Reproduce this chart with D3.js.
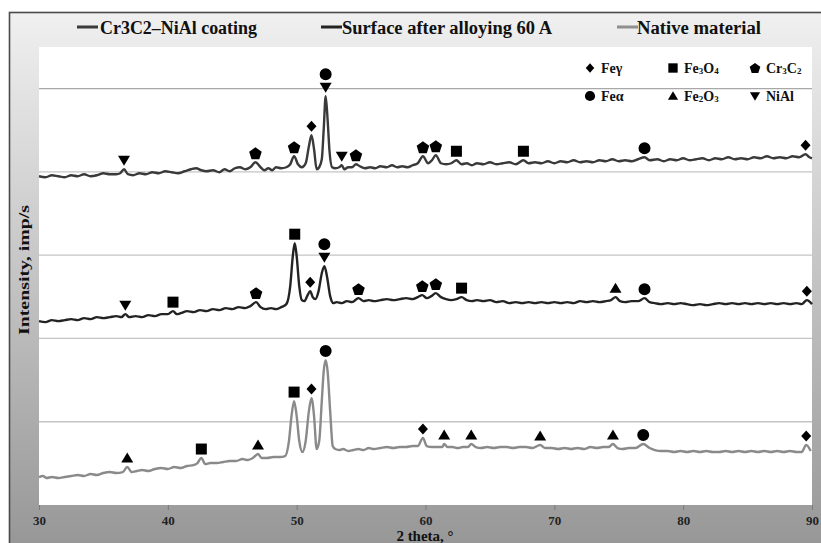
<!DOCTYPE html>
<html><head><meta charset="utf-8">
<script src="https://cdn.jsdelivr.net/npm/d3@7"></script>
<style>body{margin:0;background:#fff;} svg{display:block;}</style>
</head><body><svg id="chart" width="821" height="543"></svg>
<script>
// ---------------- DATA ----------------
const seriesNames = ["Cr3C2–NiAl coating", "Surface after alloying 60 A", "Native material"];
const xTicks = [30, 40, 50, 60, 70, 80, 90];
const gridValues = [1000, 2000, 3000, 4000, 5000];
const xTitle = "2 theta, °";
const yTitle = "Intensity, imp/s";

// [2θ, intensity]
const coating = [[30.0,3948],[30.5,3936],[31.0,3960],[31.5,3948],[32.0,3936],[32.5,3960],[33.0,3948],[33.5,3972],[34.0,3948],[34.5,3960],[35.0,3984],[35.5,3972],[36.0,3972],[36.3,3984],[36.6,4032],[36.9,3972],[37.3,3960],[37.8,3984],[38.3,3972],[38.8,3996],[39.3,3984],[39.8,4008],[40.3,3996],[40.8,3984],[41.3,4008],[41.8,4032],[42.2,4044],[42.6,4020],[43.0,4008],[43.5,4020],[44.0,3996],[44.4,4032],[44.8,4008],[45.2,4044],[45.6,4056],[46.0,4032],[46.4,4056],[46.8,4116],[47.2,4056],[47.5,4020],[47.8,4044],[48.1,4020],[48.4,4056],[48.8,4044],[49.2,4056],[49.5,4092],[49.8,4188],[50.1,4092],[50.4,4056],[50.7,4104],[50.95,4308],[51.15,4440],[51.35,4272],[51.55,4032],[51.75,4056],[51.95,4152],[52.1,4512],[52.25,4908],[52.4,4632],[52.55,4248],[52.75,4056],[53.0,4044],[53.3,4056],[53.5,4080],[53.7,4032],[54.0,4056],[54.3,4056],[54.6,4092],[54.9,4068],[55.3,4044],[55.7,4056],[56.1,4044],[56.5,4068],[57.0,4056],[57.4,4080],[57.8,4056],[58.2,4068],[58.6,4056],[59.0,4080],[59.4,4104],[59.8,4188],[60.2,4104],[60.5,4140],[60.8,4200],[61.2,4104],[61.6,4092],[62.0,4104],[62.4,4140],[62.8,4092],[63.2,4104],[63.6,4080],[64.0,4104],[64.5,4092],[65.0,4116],[65.5,4092],[66.0,4104],[66.5,4116],[67.0,4092],[67.6,4140],[68.0,4104],[68.5,4116],[69.0,4104],[69.5,4128],[70.0,4104],[70.5,4128],[71.0,4116],[71.5,4140],[72.0,4116],[72.5,4128],[73.0,4116],[73.5,4140],[74.0,4128],[74.5,4152],[75.0,4128],[75.5,4140],[76.0,4128],[76.5,4152],[77.0,4176],[77.4,4140],[78.0,4152],[78.5,4128],[79.0,4152],[79.5,4140],[80.0,4164],[80.5,4140],[81.0,4152],[81.5,4164],[82.0,4140],[82.5,4164],[83.0,4152],[83.5,4176],[84.0,4152],[84.5,4164],[85.0,4152],[85.5,4176],[86.0,4164],[86.5,4188],[87.0,4164],[87.5,4176],[88.0,4164],[88.5,4188],[89.0,4176],[89.5,4212],[89.8,4176],[90.0,4164]];

const alloyed = [[30.0,2208],[30.5,2196],[31.0,2220],[31.5,2208],[32.0,2220],[32.5,2232],[33.0,2220],[33.5,2244],[34.0,2232],[34.5,2256],[35.0,2244],[35.5,2256],[36.0,2268],[36.4,2256],[36.7,2292],[37.0,2256],[37.5,2268],[38.0,2256],[38.5,2280],[39.0,2268],[39.5,2292],[40.0,2292],[40.4,2328],[40.7,2292],[41.0,2304],[41.5,2328],[42.0,2316],[42.5,2340],[43.0,2328],[43.5,2352],[44.0,2340],[44.5,2364],[45.0,2352],[45.5,2376],[46.0,2364],[46.4,2388],[46.85,2436],[47.2,2376],[47.6,2352],[48.0,2364],[48.4,2352],[48.8,2376],[49.2,2412],[49.5,2628],[49.7,2988],[49.85,3144],[50.0,2988],[50.2,2628],[50.4,2460],[50.6,2448],[50.85,2520],[51.05,2568],[51.25,2496],[51.45,2472],[51.7,2568],[51.95,2784],[52.15,2868],[52.35,2748],[52.6,2508],[52.85,2424],[53.1,2436],[53.5,2424],[53.9,2448],[54.3,2436],[54.8,2484],[55.2,2448],[55.6,2460],[56.0,2448],[56.5,2460],[57.0,2472],[57.5,2460],[58.0,2472],[58.5,2484],[59.0,2472],[59.4,2496],[59.75,2520],[60.1,2484],[60.45,2508],[60.8,2544],[61.2,2496],[61.6,2472],[62.0,2460],[62.4,2472],[62.8,2496],[63.2,2460],[63.6,2448],[64.0,2460],[64.5,2448],[65.0,2460],[65.5,2436],[66.0,2448],[66.5,2424],[67.0,2436],[67.5,2424],[68.0,2436],[68.5,2424],[69.0,2436],[69.5,2424],[70.0,2436],[70.5,2424],[71.0,2436],[71.5,2424],[72.0,2448],[72.5,2436],[73.0,2448],[73.5,2436],[74.0,2448],[74.4,2460],[74.75,2496],[75.1,2448],[75.5,2436],[76.0,2448],[76.5,2448],[77.0,2484],[77.4,2436],[77.8,2424],[78.3,2412],[78.8,2424],[79.3,2412],[79.8,2424],[80.3,2412],[80.8,2400],[81.3,2412],[81.8,2400],[82.3,2412],[82.8,2424],[83.3,2412],[83.8,2424],[84.3,2412],[84.8,2424],[85.3,2412],[85.8,2424],[86.3,2412],[86.8,2424],[87.3,2412],[87.8,2424],[88.3,2412],[88.8,2424],[89.2,2412],[89.6,2460],[90.0,2412]];

const nativeMat = [[30.0,336],[30.3,348],[30.6,324],[31.0,336],[31.5,324],[32.0,336],[32.5,348],[33.0,360],[33.5,348],[34.0,372],[34.5,360],[35.0,384],[35.5,396],[36.0,384],[36.5,396],[36.85,456],[37.2,396],[37.6,408],[38.0,420],[38.5,408],[39.0,432],[39.5,444],[40.0,432],[40.5,456],[41.0,444],[41.5,468],[42.0,480],[42.3,504],[42.6,564],[42.9,492],[43.3,504],[43.8,504],[44.3,516],[44.8,528],[45.3,528],[45.8,552],[46.2,540],[46.6,564],[47.0,612],[47.3,564],[47.7,564],[48.2,576],[48.7,576],[49.1,588],[49.4,768],[49.6,1068],[49.8,1248],[50.0,1068],[50.2,768],[50.45,636],[50.7,768],[50.95,1128],[51.15,1284],[51.35,1068],[51.55,672],[51.75,768],[51.95,1248],[52.1,1608],[52.25,1740],[52.4,1608],[52.6,1128],[52.8,708],[53.0,672],[53.3,660],[53.6,672],[54.0,648],[54.4,660],[54.8,672],[55.2,660],[55.6,684],[56.0,672],[56.5,684],[57.0,696],[57.5,684],[58.0,696],[58.5,696],[59.0,708],[59.4,708],[59.8,804],[60.1,708],[60.5,696],[60.9,696],[61.3,696],[61.45,732],[61.7,696],[62.1,696],[62.5,684],[62.9,696],[63.3,696],[63.55,732],[63.9,696],[64.3,684],[64.8,696],[65.3,684],[65.8,696],[66.3,696],[66.8,684],[67.3,696],[67.8,696],[68.3,684],[68.9,720],[69.3,684],[69.8,684],[70.3,672],[70.8,684],[71.3,672],[71.8,684],[72.3,672],[72.8,696],[73.3,684],[73.8,696],[74.2,696],[74.55,732],[74.9,684],[75.3,672],[75.8,684],[76.3,684],[76.9,732],[77.4,684],[77.8,660],[78.3,648],[78.8,648],[79.3,636],[79.8,648],[80.3,636],[80.8,648],[81.3,636],[81.8,648],[82.3,636],[82.8,636],[83.3,648],[83.8,636],[84.3,648],[84.8,636],[85.3,648],[85.8,636],[86.3,648],[86.8,636],[87.3,648],[87.8,636],[88.3,648],[88.8,636],[89.2,636],[89.55,720],[89.9,648]];

// phase identifications: [2θ, phase, stack level]
const coatingMarks = [[36.6,"NiAl",0],[46.8,"Cr3C2",0],[49.8,"Cr3C2",0],[51.15,"Feγ",0],[52.25,"NiAl",0],[52.25,"Feα",1],[53.5,"NiAl",0],[54.6,"Cr3C2",0],[59.8,"Cr3C2",0],[60.8,"Cr3C2",0],[62.4,"Fe3O4",0],[67.6,"Fe3O4",0],[77.0,"Feα",0],[89.5,"Feγ",0]];
const alloyedMarks = [[36.7,"NiAl",0],[40.4,"Fe3O4",0],[46.85,"Cr3C2",0],[49.85,"Fe3O4",0],[51.05,"Feγ",0],[52.15,"NiAl",0],[52.15,"Feα",1],[54.8,"Cr3C2",0],[59.75,"Cr3C2",0],[60.8,"Cr3C2",0],[62.8,"Fe3O4",0],[74.75,"Fe2O3",0],[77.0,"Feα",0],[89.6,"Feγ",0]];
const nativeMarks = [[36.85,"Fe2O3",0],[42.6,"Fe3O4",0],[47.0,"Fe2O3",0],[49.8,"Fe3O4",0],[51.15,"Feγ",0],[52.25,"Feα",0],[59.8,"Feγ",0],[61.45,"Fe2O3",0],[63.55,"Fe2O3",0],[68.9,"Fe2O3",0],[74.55,"Fe2O3",0],[76.9,"Feα",0],[89.55,"Feγ",0]];

const phaseLegendRow1 = ["Feγ", "Fe3O4", "Cr3C2"];
const phaseLegendRow2 = ["Feα", "Fe2O3", "NiAl"];

// ---------------- STYLE ----------------
const seriesColors = ["#3a3a3a", "#232323", "#8a8a8a"];
const phaseShape = {"Feγ":"diamond","Fe3O4":"square","Cr3C2":"pentagon","Feα":"circle","Fe2O3":"triUp","NiAl":"triDown"};
function shapePath(t, k) {
  k = k || 1;
  if (t === "diamond") return `M0,${-5.5*k}L${5*k},0L0,${5.5*k}L${-5*k},0Z`;
  if (t === "square") return `M${-5.5*k},${-5.5*k}h${11*k}v${11*k}h${-11*k}Z`;
  if (t === "circle") return d3.symbol(d3.symbolCircle, 113*k*k)();
  if (t === "triUp") return `M0,${-5.5*k}L${6*k},${4.5*k}L${-6*k},${4.5*k}Z`;
  if (t === "triDown") return `M0,${5.5*k}L${6*k},${-4.5*k}L${-6*k},${-4.5*k}Z`;
  if (t === "pentagon") {
    const pts = d3.range(5).map(i => { const a = -Math.PI/2 + i*2*Math.PI/5; return [6.6*k*Math.cos(a), 6.6*k*Math.sin(a)+0.6*k]; });
    return "M" + pts.map(p => p.join(",")).join("L") + "Z";
  }
}
const serif = "'Liberation Serif','Times New Roman',serif";

// ---------------- DRAW ----------------
const svg = d3.select("#chart");
const defs = svg.append("defs");
const grad = defs.append("linearGradient").attr("id","bg").attr("x1",0).attr("y1",0).attr("x2",0).attr("y2",1);
grad.append("stop").attr("offset","0%").attr("stop-color","#f0f0f0");
grad.append("stop").attr("offset","30%").attr("stop-color","#d5d5d5");
grad.append("stop").attr("offset","100%").attr("stop-color","#959595");

svg.append("rect").attr("x",9.5).attr("y",12.5).attr("width",830).attr("height",545)
  .attr("fill","url(#bg)").attr("stroke","#4a4a4a").attr("stroke-width",1.6);

const x = d3.scaleLinear().domain([30, 90]).range([39, 812]);
const y = d3.scaleLinear().domain([0, 5500]).range([505, 47]);

svg.append("rect").attr("x", x(30)).attr("y", y(5500)).attr("width", x(90)-x(30)).attr("height", y(0)-y(5500)).attr("fill","#fff");

svg.append("g").selectAll("line").data(gridValues).join("line")
  .attr("x1", x(30)).attr("x2", x(90)).attr("y1", d => y(d)).attr("y2", d => y(d))
  .attr("stroke", d => d === 5000 ? "#a8a8a8" : "#c4c4c4").attr("stroke-width",1.3);

// x axis
const xAxis = svg.append("g").attr("transform", `translate(0,${y(0)})`)
  .call(d3.axisBottom(x).tickValues(xTicks).tickSize(5).tickPadding(6).tickFormat(d3.format("d")));
xAxis.select(".domain").remove();
xAxis.selectAll(".tick line").attr("stroke","#7a7a7a");
xAxis.selectAll(".tick text").attr("font-family", serif).attr("font-size", 13).attr("font-weight","bold").attr("fill","#222");

svg.append("text").attr("x", 425).attr("y", 541).attr("text-anchor","middle")
  .attr("font-family", serif).attr("font-size", 15).attr("font-weight","bold").attr("fill","#111").text(xTitle);

svg.append("text").attr("transform","translate(24,270) rotate(-90)").attr("text-anchor","middle").attr("dominant-baseline","central")
  .attr("font-family", serif).attr("font-size", 15).attr("font-weight","bold").attr("fill","#111")
  .attr("textLength",130).attr("lengthAdjust","spacingAndGlyphs").text(yTitle);

// series
const line = d3.line().x(d => x(d[0])).y(d => y(d[1])).curve(d3.curveMonotoneX);
const allSeries = [coating, alloyed, nativeMat];
const allMarks = [coatingMarks, alloyedMarks, nativeMarks];
svg.append("g").selectAll("path").data(allSeries).join("path")
  .attr("d", line).attr("fill","none").attr("stroke", (d,i) => seriesColors[i])
  .attr("stroke-width", 2.4).attr("stroke-linejoin","round");

// phase markers
allMarks.forEach((marks, si) => {
  const s = allSeries[si];
  svg.append("g").selectAll("path").data(marks).join("path")
    .attr("d", d => shapePath(phaseShape[d[1]]))
    .attr("fill","#000")
    .attr("transform", d => {
      const peak = d3.max(s.filter(p => Math.abs(p[0]-d[0]) <= 0.3), p => p[1]);
      return `translate(${x(d[0])},${y(peak) - 9 - d[2]*13})`;
    });
});

// phase legend
function addPhaseLabel(g, label) {
  const t = g.append("text").attr("font-family", serif).attr("font-size", 14).attr("font-weight","bold").attr("fill","#111").attr("dominant-baseline","central");
  const parts = label.match(/[^0-9]+|[0-9]/g);
  parts.forEach((p, i) => {
    if (/[0-9]/.test(p)) t.append("tspan").attr("font-size", 9).attr("dy", 3).text(p);
    else {
      const ts = t.append("tspan").text(p);
      if (i > 0 && /[0-9]/.test(parts[i-1])) ts.attr("dy", -3);
    }
  });
}
const legCols = [590, 673, 755];
[[phaseLegendRow1, 68], [phaseLegendRow2, 96]].forEach(([row, yy]) => {
  row.forEach((ph, i) => {
    const g = svg.append("g").attr("transform", `translate(${legCols[i]},${yy})`);
    g.append("path").attr("d", shapePath(phaseShape[ph], 0.85)).attr("fill","#000");
    const tg = g.append("g").attr("transform","translate(11,0)");
    addPhaseLabel(tg, ph);
  });
});

// series legend
const legItems = [[77, 100, 157], [321, 342, 210], [617, 637, 124]];
seriesNames.forEach((nm, i) => {
  const [lx, tx, tl] = legItems[i];
  svg.append("line").attr("x1", lx).attr("x2", lx + 21).attr("y1", 27).attr("y2", 27)
    .attr("stroke", i === 2 ? "#8f8f8f" : seriesColors[i]).attr("stroke-width", 3);
  svg.append("text").attr("x", tx).attr("y", 34).attr("font-family", serif).attr("font-size", 18).attr("font-weight","bold")
    .attr("fill","#111").attr("textLength", tl).attr("lengthAdjust","spacingAndGlyphs").text(nm);
});
</script>
</body></html>
